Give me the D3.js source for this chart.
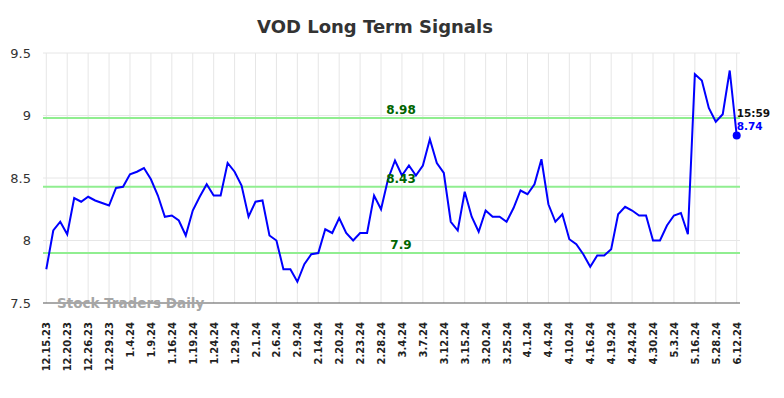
<!DOCTYPE html>
<html lang="en">
<head>
<meta charset="utf-8">
<script src="https://cdn.jsdelivr.net/npm/d3@7/dist/d3.min.js"></script>
<style>
  body { margin: 0; background: #fff; }
  text { font-family: "DejaVu Sans", sans-serif; }
</style>
<title>VOD Long Term Signals</title>
</head>
<body>
<script>
// closing prices, one per session shown on the chart
var prices = [
  7.77, 8.08, 8.15, 8.05, 8.34, 8.31, 8.35, 8.32, 8.30, 8.28,
  8.42, 8.43, 8.53, 8.55, 8.58, 8.49, 8.36, 8.19, 8.20, 8.16,
  8.04, 8.24, 8.35, 8.45, 8.36, 8.36, 8.62, 8.55, 8.44, 8.19,
  8.31, 8.32, 8.04, 8.00, 7.77, 7.77, 7.67, 7.81, 7.89, 7.90,
  8.09, 8.06, 8.18, 8.06, 8.00, 8.06, 8.06, 8.36, 8.25, 8.49,
  8.64, 8.52, 8.60, 8.52, 8.60, 8.81, 8.62, 8.54, 8.15, 8.08,
  8.39, 8.19, 8.07, 8.24, 8.19, 8.19, 8.15, 8.26, 8.40, 8.37,
  8.45, 8.65, 8.29, 8.15, 8.21, 8.01, 7.97, 7.89, 7.79, 7.88,
  7.88, 7.93, 8.21, 8.27, 8.24, 8.20, 8.20, 8.00, 8.00, 8.12,
  8.20, 8.22, 8.05, 9.33, 9.28, 9.06, 8.95, 9.01, 9.36, 8.84
];

var tickLabels = [
  "12.15.23", "12.20.23", "12.26.23", "12.29.23", "1.4.24", "1.9.24",
  "1.16.24", "1.19.24", "1.24.24", "1.29.24", "2.1.24", "2.6.24",
  "2.9.24", "2.14.24", "2.20.24", "2.23.24", "2.28.24", "3.4.24",
  "3.7.24", "3.12.24", "3.15.24", "3.20.24", "3.25.24", "4.1.24",
  "4.4.24", "4.10.24", "4.16.24", "4.19.24", "4.24.24", "4.30.24",
  "5.3.24", "5.16.24", "5.28.24", "6.12.24"
];

var signals = [8.98, 8.43, 7.9];
var yTicks = [7.5, 8, 8.5, 9, 9.5];
var lastTime = "15:59";
var lastLabel = "8.74";

var w = 784;
var h = 398;
var padL = 43, padR = 740, padT = 53, padB = 303;

var svg = d3.select("body")
  .append("svg")
  .attr("width", w)
  .attr("height", h);

var xScale = d3.scaleLinear()
  .domain([0, prices.length - 1])
  .range([46.3, 736.7]);

var yScale = d3.scaleLinear()
  .domain([7.5, 9.5])
  .range([padB, padT]);

var tickIdx = tickLabels.map(function(d, i) { return i * 3; });

// grid
svg.append("g")
  .selectAll("line")
  .data(yTicks.slice(1))
  .enter()
  .append("line")
  .attr("x1", padL).attr("x2", padR)
  .attr("y1", function(d) { return yScale(d); })
  .attr("y2", function(d) { return yScale(d); })
  .attr("stroke", "#e6e6e6")
  .attr("stroke-width", 1);

svg.append("g")
  .selectAll("line")
  .data(tickIdx)
  .enter()
  .append("line")
  .attr("x1", function(d) { return xScale(d); })
  .attr("x2", function(d) { return xScale(d); })
  .attr("y1", padT).attr("y2", padB)
  .attr("stroke", "#e6e6e6")
  .attr("stroke-width", 1);

// y axis labels
var yAxis = d3.axisLeft(yScale)
  .tickValues(yTicks)
  .tickSize(0)
  .tickPadding(0)
  .tickFormat(function(d) { return String(d); });

var gy = svg.append("g")
  .attr("transform", "translate(31,0)")
  .call(yAxis);
gy.select(".domain").remove();
gy.selectAll("text")
  .attr("fill", "#333")
  .style("font-size", "13px")
  .style("font-family", "DejaVu Sans, sans-serif");

// x axis
var xAxis = d3.axisBottom(xScale)
  .tickValues(tickIdx)
  .tickSize(0)
  .tickFormat(function(d, i) { return tickLabels[i]; });

var gx = svg.append("g")
  .attr("transform", "translate(0," + padB + ")")
  .call(xAxis);
gx.select(".domain").remove();
gx.selectAll("text")
  .attr("fill", "#222")
  .attr("text-anchor", "end")
  .attr("transform", "translate(0,19) rotate(-90)")
  .attr("x", 0)
  .attr("y", 0)
  .attr("dy", "0.35em")
  .style("font-size", "10px")
  .style("font-weight", "bold")
  .style("font-family", "DejaVu Sans, sans-serif");

svg.append("line")
  .attr("x1", padL).attr("x2", padR)
  .attr("y1", padB).attr("y2", padB)
  .attr("stroke", "#555")
  .attr("stroke-width", 1.2);

// signal lines
svg.append("g")
  .selectAll("line")
  .data(signals)
  .enter()
  .append("line")
  .attr("x1", padL).attr("x2", padR)
  .attr("y1", function(d) { return yScale(d); })
  .attr("y2", function(d) { return yScale(d); })
  .attr("stroke", "#90ee90")
  .attr("stroke-width", 2);

// watermark
svg.append("text")
  .attr("x", 57)
  .attr("y", padB + 5)
  .attr("fill", "#a6a6a6")
  .style("font-size", "13.5px")
  .style("font-weight", "bold")
  .text("Stock Traders Daily");

// price line
var line = d3.line()
  .x(function(d, i) { return xScale(i); })
  .y(function(d) { return yScale(d); });

svg.append("path")
  .datum(prices)
  .attr("fill", "none")
  .attr("stroke", "#0000ff")
  .attr("stroke-width", 2)
  .attr("d", line);

svg.append("g")
  .selectAll("text")
  .data(signals)
  .enter()
  .append("text")
  .attr("x", 401)
  .attr("y", function(d) { return yScale(d) - 4; })
  .attr("text-anchor", "middle")
  .attr("fill", "#006400")
  .style("font-size", "12px")
  .style("font-weight", "bold")
  .text(function(d) { return String(d); });

var lastI = prices.length - 1;
svg.append("circle")
  .attr("cx", xScale(lastI))
  .attr("cy", yScale(prices[lastI]))
  .attr("r", 4)
  .attr("fill", "#0000ff");

svg.append("text")
  .attr("x", xScale(lastI))
  .attr("y", 117)
  .attr("fill", "#111")
  .style("font-size", "10.5px")
  .style("font-weight", "bold")
  .text(lastTime);

svg.append("text")
  .attr("x", xScale(lastI))
  .attr("y", 130)
  .attr("fill", "#0000ff")
  .style("font-size", "10.5px")
  .style("font-weight", "bold")
  .text(lastLabel);

// title
svg.append("text")
  .attr("x", 375)
  .attr("y", 33)
  .attr("text-anchor", "middle")
  .attr("fill", "#333")
  .style("font-size", "18px")
  .style("font-weight", "bold")
  .text("VOD Long Term Signals");
</script>
</body>
</html>
